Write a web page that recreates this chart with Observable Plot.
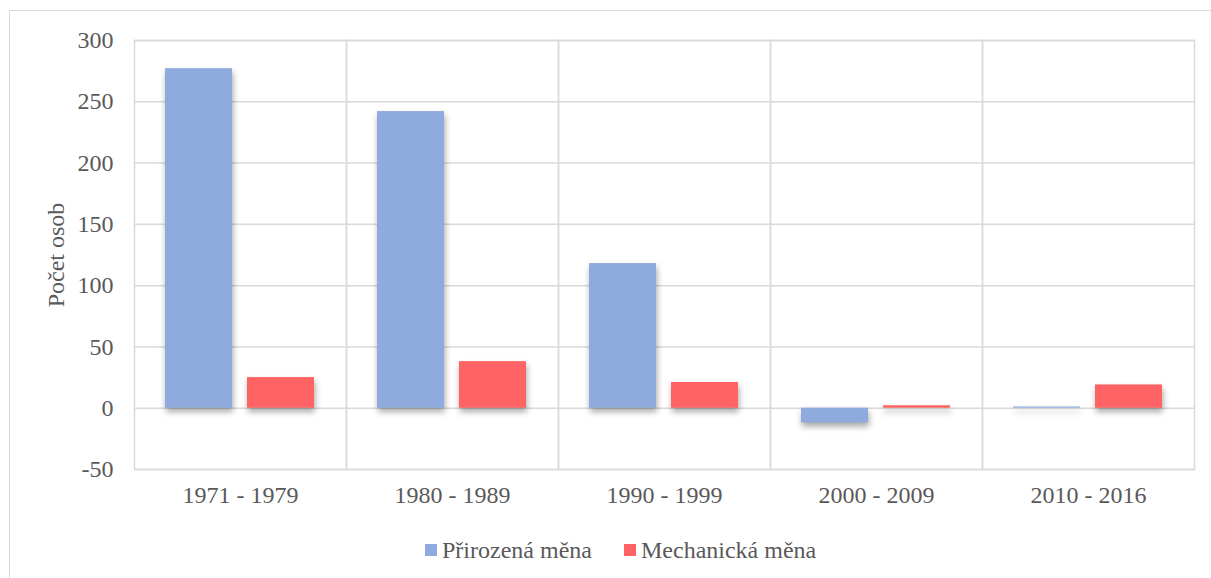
<!DOCTYPE html>
<html>
<head>
<meta charset="utf-8">
<script src="https://cdn.jsdelivr.net/npm/d3@7"></script>
<script src="https://cdn.jsdelivr.net/npm/@observablehq/plot@0.6"></script>
<style>
  html, body { margin: 0; padding: 0; background: #fff; }
  #wrap { position: relative; width: 1211px; height: 578px; overflow: hidden; }
  #border { position: absolute; left: 9px; top: 10px; width: 1300px; height: 700px; border-top: 1.5px solid #d9d9d9; border-left: 1.5px solid #d9d9d9; }
  #chart { position: absolute; left: 0; top: 0; }
  #legend { position: absolute; left: 0; top: 520px; }
</style>
</head>
<body>
<div id="wrap">
  <div id="border"></div>
  <div id="chart"></div>
  <div id="legend"></div>
</div>
<script>
const periods = ["1971 - 1979", "1980 - 1989", "1990 - 1999", "2000 - 2009", "2010 - 2016"];
const series = ["Přirozená měna", "Mechanická měna"];
const prirozena = [277, 242, 118, -12, 1];
const mechanicka = [25, 38, 21, 2, 19];
const yTicks = [-50, 0, 50, 100, 150, 200, 250, 300];
const colors = ["#8faadc", "#ff6363"];
const FONT = "'Liberation Serif', 'Times New Roman', serif";

const data = [];
periods.forEach((p, i) => {
  data.push({period: p, series: series[0], value: prirozena[i]});
  data.push({period: p, series: series[1], value: mechanicka[i]});
});

const chart = Plot.plot({
  width: 1211,
  height: 520,
  marginLeft: 134,
  marginRight: 17,
  marginTop: 40,
  marginBottom: 51,
  style: {fontFamily: FONT, fontSize: "24px", color: "#595959", background: "transparent"},
  fx: {domain: periods, padding: 0, label: null, axis: "bottom", tickSize: 0, tickPadding: 16},
  x: {domain: series, paddingInner: 0.18, paddingOuter: 0.38, axis: null},
  y: {domain: [-50, 300], ticks: yTicks, label: null, axis: null},
  color: {domain: series, range: colors},
  marks: [
    Plot.gridY(yTicks, {stroke: "#d9d9d9", strokeOpacity: 1, strokeWidth: 1.5}),
    Plot.frame({stroke: "#d9d9d9", strokeWidth: 1.5}),
    Plot.axisY(yTicks, {tickSize: 0, tickPadding: 21, tickFormat: d => String(d), label: "Počet osob", labelAnchor: "center", labelOffset: 88, labelArrow: "none"}),
    Plot.barY(data, {fx: "period", x: "series", y: "value", fill: "series"})
  ]
});
document.getElementById("chart").appendChild(chart);

chart.querySelectorAll('g[aria-label="bar"]').forEach(g => {
  g.style.filter = "drop-shadow(1px 4px 3px rgba(0,0,0,0.35))";
});

// Legend as SVG so it uses the same font rendering as the chart
const lsvg = d3.create("svg")
  .attr("width", 1211).attr("height", 58)
  .style("font-family", FONT).style("font-size", "24px").style("overflow", "visible");
const swX = [425, 624];
series.forEach((s, i) => {
  lsvg.append("rect").attr("x", swX[i]).attr("y", 24).attr("width", 12).attr("height", 12).attr("fill", colors[i]);
  lsvg.append("text").attr("x", swX[i] + 17).attr("y", 30).attr("dy", "0.35em").attr("fill", "#595959").text(s);
});
document.getElementById("legend").appendChild(lsvg.node());
</script>
</body>
</html>
